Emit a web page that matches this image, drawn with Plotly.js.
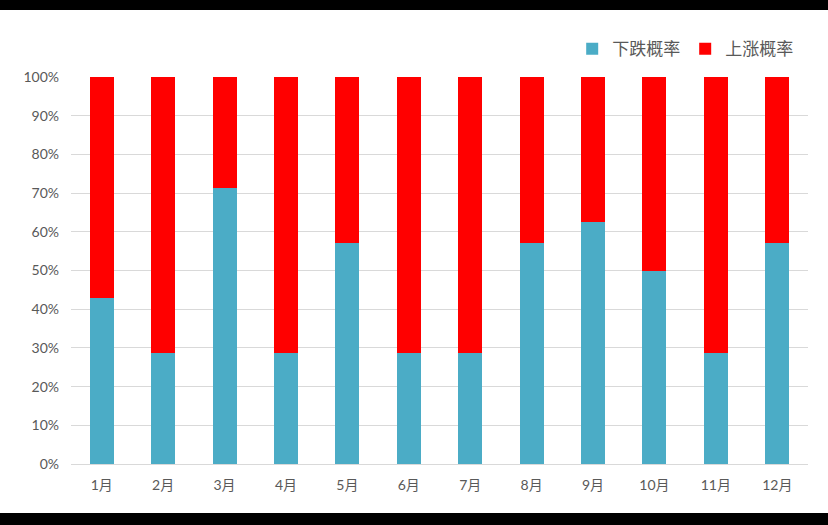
<!DOCTYPE html>
<html>
<head>
<meta charset="utf-8">
<script src="https://cdn.plot.ly/plotly-3.0.1.min.js"></script>
<style>
  html, body { margin: 0; padding: 0; background: #000; }
  #chart { position: absolute; left: 0; top: 10px; width: 828px; height: 503px; background: #fff; }
</style>
</head>
<body>
<div id="chart"></div>
<script>
// monthly probabilities
const months = ['1月', '2月', '3月', '4月', '5月', '6月', '7月', '8月', '9月', '10月', '11月', '12月'];
const downProb = [0.429, 0.286, 0.714, 0.286, 0.571, 0.286, 0.286, 0.571, 0.625, 0.500, 0.286, 0.571];
const upProb = [0.571, 0.714, 0.286, 0.714, 0.429, 0.714, 0.714, 0.429, 0.375, 0.500, 0.714, 0.429];

const labelFont = 'Lato, "Noto Sans CJK SC", sans-serif';

const traces = [
    {
        type: 'bar',
        name: '下跌概率',
        x: months,
        y: downProb,
        marker: { color: '#4BACC6' },
        width: 0.39,
        hoverinfo: 'x+y'
    },
    {
        type: 'bar',
        name: '上涨概率',
        x: months,
        y: upProb,
        marker: { color: '#FF0000' },
        width: 0.39,
        hoverinfo: 'x+y'
    }
];

const layout = {
    width: 828,
    height: 503,
    barmode: 'stack',
    paper_bgcolor: '#ffffff',
    plot_bgcolor: '#ffffff',
    font: { family: labelFont, color: '#595959', size: 14 },
    margin: { t: 67, b: 49, l: 71, r: 20 },
    showlegend: true,
    legend: {
        orientation: 'h',
        traceorder: 'normal',
        xref: 'container',
        yref: 'container',
        x: 0.964,
        xanchor: 'right',
        y: 0.922,
        yanchor: 'middle',
        font: { size: 17, family: '"Noto Sans CJK SC", sans-serif', color: '#595959' },
        itemwidth: 30,
        bgcolor: 'rgba(0,0,0,0)'
    },
    xaxis: {
        showgrid: false,
        showline: false,
        ticks: '',
        ticklabelstandoff: 11,
        tickfont: { size: 14, color: '#595959' }
    },
    yaxis: {
        range: [0, 1],
        dtick: 0.1,
        tickformat: '.0%',
        gridcolor: '#d9d9d9',
        zeroline: true,
        zerolinecolor: '#d9d9d9',
        zerolinewidth: 1,
        ticks: '',
        ticklabelstandoff: 11,
        tickfont: { size: 14, color: '#595959' }
    }
};

Plotly.newPlot('chart', traces, layout, { displayModeBar: false });
</script>
</body>
</html>
